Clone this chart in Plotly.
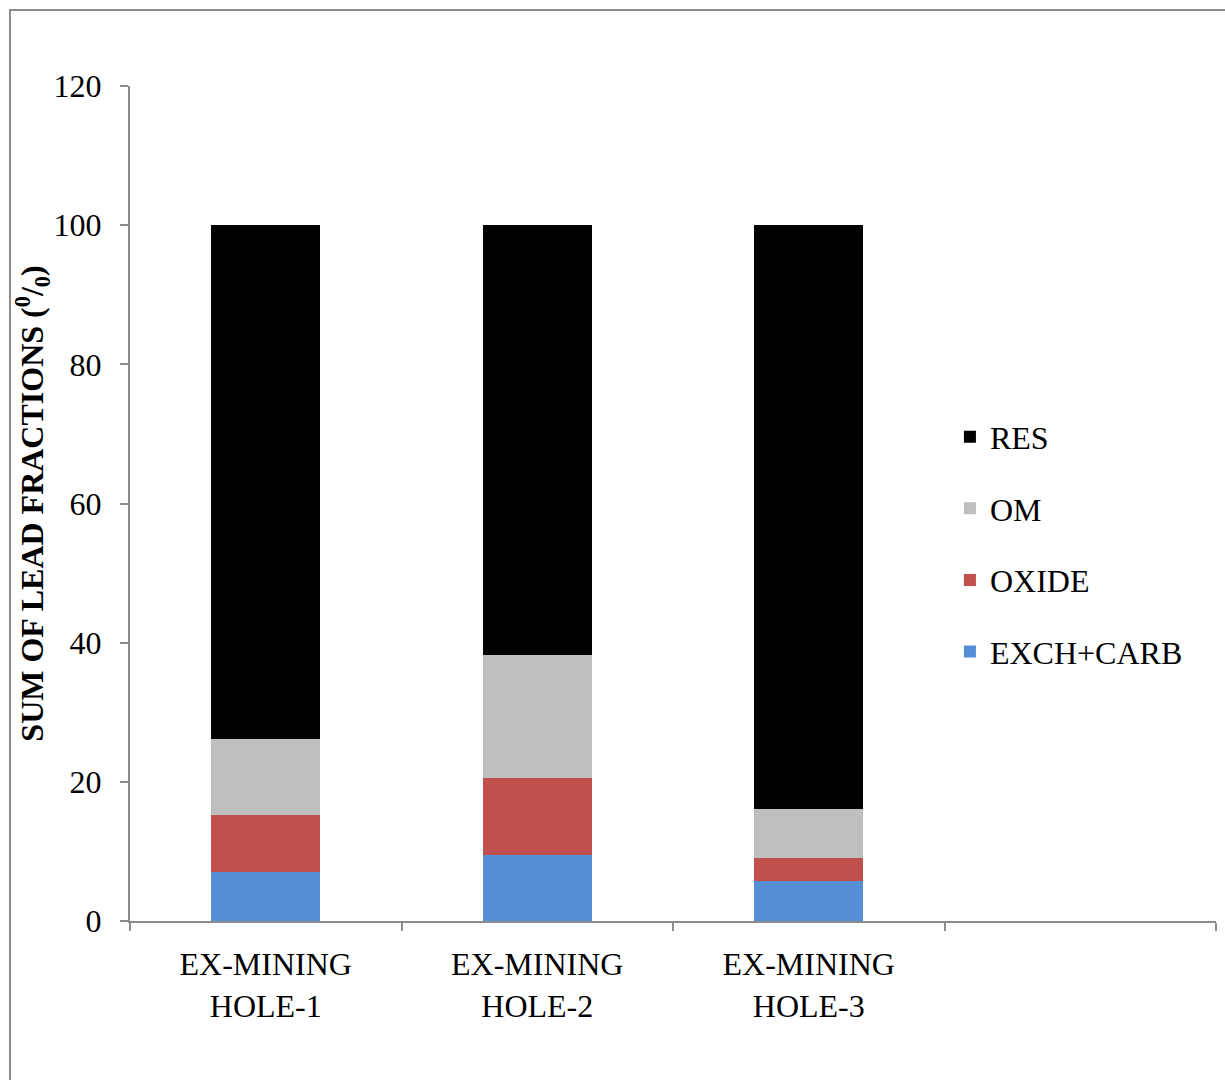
import plotly.graph_objects as go

# Lead fractionation at three former mining holes (% of total Pb)
sites = ["EX-MINING<br>HOLE-1", "EX-MINING<br>HOLE-2", "EX-MINING<br>HOLE-3", " "]
exch_carb = [7.0, 9.5, 5.7]
oxide = [8.3, 11.1, 3.4]
om = [10.8, 17.6, 7.0]
res = [73.9, 61.8, 83.9]

# name, values, colour, legend rank (RES listed first)
series = [
    ("EXCH+CARB", exch_carb, "#558ED5", 4),
    ("OXIDE", oxide, "#C0504D", 3),
    ("OM", om, "#BFBFBF", 2),
    ("RES", res, "#000000", 1),
]

FONT = "Liberation Serif, Times New Roman, serif"
AXIS_GREY = "#8c8c8c"

fig = go.Figure()
for name, vals, color, rank in series:
    fig.add_trace(go.Bar(
        name=name,
        x=sites[:len(vals)],
        y=vals,
        marker=dict(color=color, line=dict(width=0)),
        legendgroup=name,
        legendrank=rank,
    ))

fig.update_layout(
    barmode="stack",
    bargap=0.6,
    width=1225,
    height=1080,
    margin=dict(l=130, r=9, t=86, b=159),
    paper_bgcolor="white",
    plot_bgcolor="white",
    font=dict(family=FONT, size=32, color="black"),
    showlegend=True,
    legend=dict(
        x=0.755, y=0.451, xanchor="left", yanchor="middle",
        traceorder="grouped",
        tracegroupgap=27,
        font=dict(family=FONT, size=32, color="black"),
        bgcolor="rgba(0,0,0,0)",
    ),
    xaxis=dict(
        type="category",
        categoryorder="array",
        categoryarray=sites,
        range=[-0.5, 3.5],
        showline=True, linecolor=AXIS_GREY, linewidth=2,
        ticks="outside", tickson="boundaries", ticklen=8,
        tickcolor=AXIS_GREY, tickwidth=2,
        tickfont=dict(family=FONT, size=32, color="black"),
        ticklabelstandoff=14,
        showgrid=False, zeroline=False,
    ),
    yaxis=dict(
        range=[0, 120], dtick=20,
        showline=True, linecolor=AXIS_GREY, linewidth=2,
        ticks="outside", ticklen=8, tickcolor=AXIS_GREY, tickwidth=2,
        tickfont=dict(family=FONT, size=32, color="black"),
        ticklabelstandoff=12,
        showgrid=False, zeroline=False,
        title=dict(
            text="<b>SUM OF LEAD FRACTIONS (<sup>0</sup>/<sub>0</sub>)</b>",
            font=dict(family=FONT, size=32, color="black"),
            standoff=0,
        ),
    ),
)

# Outer frame around the chart
fig.add_shape(
    type="rect", xref="paper", yref="paper",
    x0=(10 - 130) / 1086, x1=(1240 - 130) / 1086,
    y0=(921 - 1090) / 835, y1=(921 - 10) / 835,
    line=dict(color=AXIS_GREY, width=2), fillcolor="rgba(0,0,0,0)",
    layer="below",
)

fig.write_html("out.html")
